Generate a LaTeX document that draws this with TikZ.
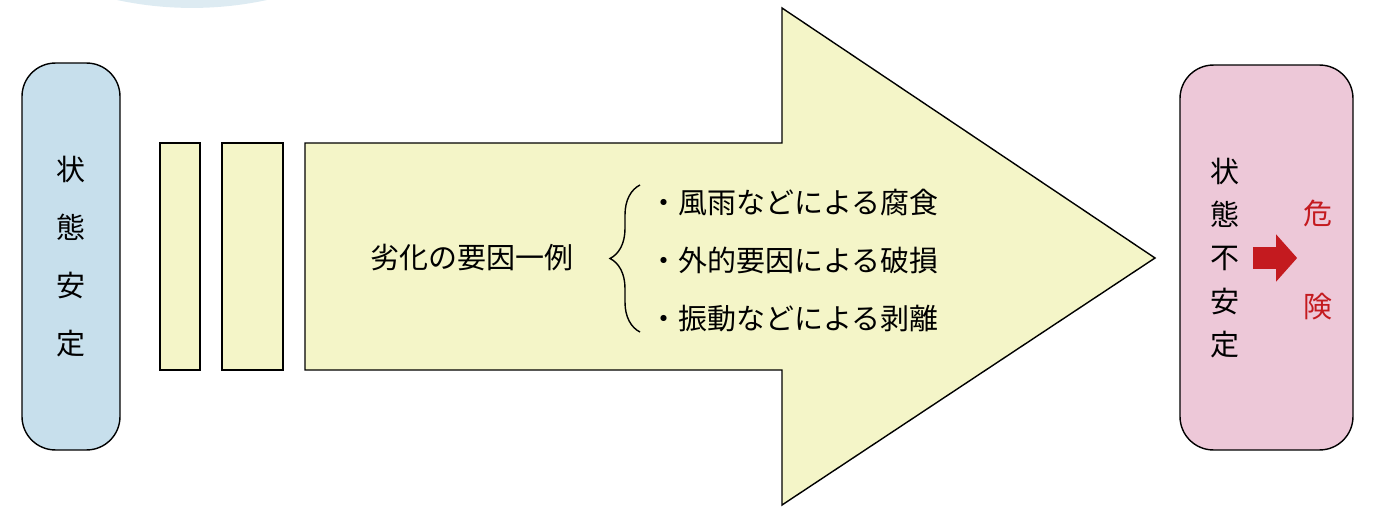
\documentclass[tikz,border=0pt]{standalone}
\usepackage{fontspec}
\newfontfamily\jp{Noto Sans CJK JP}
\usetikzlibrary{arrows.meta,decorations.pathreplacing,positioning}
\definecolor{stablebg}{HTML}{C7DFEC}
\definecolor{unstablebg}{HTML}{EDC8D8}
\definecolor{factorbg}{HTML}{F4F5C8}
\definecolor{dangerred}{HTML}{C41A1F}
\definecolor{haze}{HTML}{DDEBF2}
\tikzset{
  statebox/.style={draw=black, line width=0.8pt, rounded corners=19pt, align=center},
  layer/.style={draw=black, line width=0.8pt, fill=factorbg},
  jtext/.style={font=\jp\fontsize{16.5}{33}\selectfont, inner sep=0pt, align=center},
}

\begin{document}
\begin{tikzpicture}[x=0.02cm,y=-0.02cm]
        \useasboundingbox (0,0) rectangle (1374,507);
        \begin{scope}
          \clip (0,0) rectangle (1374,507);
          \fill[haze] (192,-347) circle[radius=7.1cm]; % faded circle at the top
        \end{scope}
        % stable state
        \node[statebox, jtext, fill=stablebg, minimum width=1.96cm, minimum height=7.74cm]
          (stable) at (71,256.5) {状\\態\\安\\定};
        % deterioration layers
        \node[layer, minimum width=0.8cm, minimum height=4.54cm] (layerA) at (180,256.5) {};
        \node[layer, minimum width=1.22cm, minimum height=4.54cm] (layerB) at (252.5,256.5) {};
        \draw[layer] (305,143) -- (782,143) -- (782,8) -- (1155,258)
          -- (782,505) -- (782,370) -- (305,370) -- cycle; % big arrow
        \node[jtext] (factor) at (472,258) {劣化の要因一例};
        \node[jtext, anchor=west, align=left, font=\jp\fontsize{16.5}{58}\selectfont]
          (causes) at (649,261) {・風雨などによる腐食\\[-25pt]・外的要因による破損\\[-25pt]・振動などによる剥離};
        \coordinate (bracetop) at (640,185);
        \coordinate (bracebot) at (640,332);
        \draw[line width=0.8pt, decorate, decoration={brace, amplitude=0.6cm}]
          (bracebot) -- (bracetop); % brace before the causes
        % unstable state
        \node[statebox, fill=unstablebg, minimum width=3.46cm, minimum height=7.7cm]
          (unstable) at (1266.5,257.5) {};
        \node[jtext, font=\jp\fontsize{16.5}{24.7}\selectfont] (unstabletxt) at (1225,258) {状\\態\\不\\安\\定};
        \node[jtext, text=dangerred, font=\jp\fontsize{16.5}{53}\selectfont] (danger) at (1318,260) {危\\険};
        \draw[dangerred, line width=0.46cm, -{Triangle[length=0.42cm, width=0.92cm]},
          shorten <=0.26cm, shorten >=0.12cm]
          (unstabletxt.east) -- (unstabletxt.east -| danger.west); % to danger
\end{tikzpicture}
\end{document}
